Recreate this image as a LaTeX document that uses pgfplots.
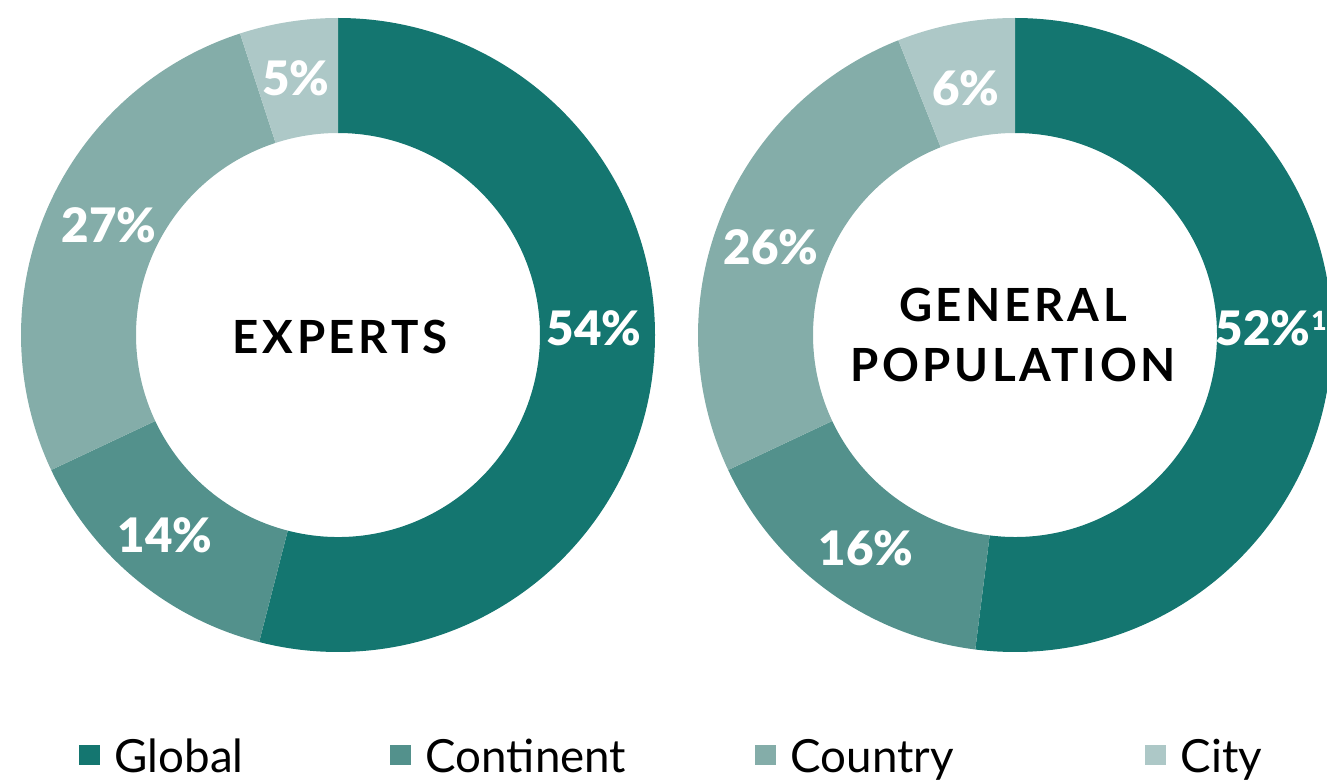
\documentclass[border=0pt]{standalone}
\usepackage{fontspec}
\setmainfont{Lato}
\newfontfamily\heavy{Lato Black}
\usepackage{pgfplots}
\pgfplotsset{compat=1.18}
\usepackage{pgfplotstable}

\definecolor{cGlobal}{HTML}{147670}
\definecolor{cContinent}{HTML}{53918C}
\definecolor{cCountry}{HTML}{84ADA9}
\definecolor{cCity}{HTML}{ADC8C7}

% shares in percent, clockwise from 12 o'clock
\pgfplotstableread{
region    share col
Global    54    cGlobal
Continent 14    cContinent
Country   27    cCountry
City      5     cCity
}\experts
\pgfplotstableread{
region    share col
Global    52    cGlobal
Continent 16    cContinent
Country   26    cCountry
City      6     cCity
}\general

% ring: outer radius 317, inner 202 (axis units = 0.1mm)
\newcommand\donut[3]{%
  \def\acc{90}%
  \pgfplotsforeachungrouped \i in {0,...,3}{%
    \pgfplotstablegetelem{\i}{share}\of{#1}\let\v\pgfplotsretval
    \pgfplotstablegetelem{\i}{col}\of{#1}\let\c\pgfplotsretval
    \pgfmathsetmacro\b{\acc-3.6*\v}%
    \pgfmathsetmacro\xa{#2+317*cos(\acc)}%
    \pgfmathsetmacro\ya{#3+317*sin(\acc)}%
    \pgfmathsetmacro\xb{#2+202*cos(\b)}%
    \pgfmathsetmacro\yb{#3+202*sin(\b)}%
    \edef\temp{\noexpand\fill[\c] (axis cs:\xa,\ya)
      arc[start angle=\acc, end angle=\b, radius=31.7mm]
      -- (axis cs:\xb,\yb)
      arc[start angle=\b, end angle=\acc, radius=20.2mm] -- cycle;}%
    \temp
    \let\acc\b
  }%
}

\tikzset{
  lbl/.style={text=white, font=\fontsize{13.5}{15}\selectfont\heavy, inner sep=0pt},
  ttl/.style={font=\fontsize{13}{15}\selectfont\bfseries\addfontfeature{LetterSpace=8}, inner sep=0pt, align=center},
  leg/.style={font=\fontsize{13}{15}\selectfont, anchor=base west, inner sep=0pt},
}

\begin{document}
\begin{tikzpicture}
\begin{axis}[
  x=0.1mm, y=0.1mm,
  xmin=0, xmax=1327, ymin=0, ymax=781,
  hide axis, clip=true,
]
\donut{\experts}{338}{446}
\donut{\general}{1015}{446}

% slice labels
\node[lbl] at (axis cs:296,703) {5\%};
\node[lbl] at (axis cs:109,556) {27\%};
\node[lbl] at (axis cs:165,246) {14\%};
\node[lbl] at (axis cs:594,453) {54\%};
\node[lbl] at (axis cs:966,693) {6\%};
\node[lbl] at (axis cs:771,534) {26\%};
\node[lbl] at (axis cs:866,233) {16\%};
\node[lbl] at (axis cs:1263,453) {52\%};
\node[lbl, font=\fontsize{7.5}{8}\selectfont\heavy] at (axis cs:1319,460) {1};

% centre titles
\node[ttl] at (axis cs:340,444) {EXPERTS};
\node[ttl] at (axis cs:1013,446) {GENERAL\\[2pt]POPULATION};

% legend
\fill[cGlobal]    (axis cs:79,16) rectangle (axis cs:100,36);
\node[leg] at (axis cs:114,9) {Global};
\fill[cContinent] (axis cs:390,16) rectangle (axis cs:411,36);
\node[leg] at (axis cs:425,9) {Continent};
\fill[cCountry]   (axis cs:755,16) rectangle (axis cs:776,36);
\node[leg] at (axis cs:790,9) {Country};
\fill[cCity]      (axis cs:1145,16) rectangle (axis cs:1166,36);
\node[leg] at (axis cs:1180,9) {City};
\end{axis}
\pgfresetboundingbox
\path (current axis.south west) rectangle (current axis.north east);
\end{tikzpicture}
\end{document}
